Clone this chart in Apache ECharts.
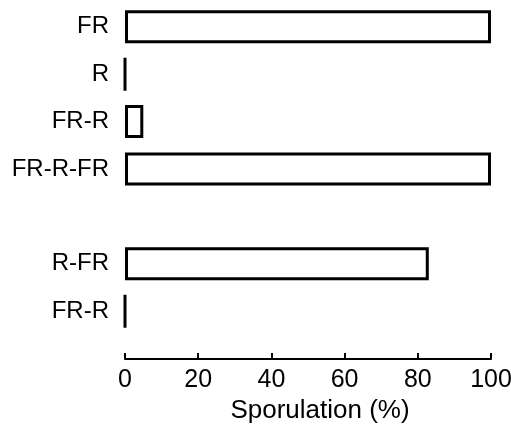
<!DOCTYPE html>
<html>
<head>
<meta charset="utf-8">
<script src="https://cdn.jsdelivr.net/npm/echarts@6/dist/echarts.min.js"></script>
<style>
  html, body { margin: 0; padding: 0; background: #fff; }
  #chart { width: 511px; height: 425px; }
</style>
</head>
<body>
<div id="chart"></div>
<script>
// light treatments, top to bottom; '' is the blank row between the two groups
const treatments = ['FR', 'R', 'FR-R', 'FR-R-FR', '', 'R-FR', 'FR-R'];
const sporulation = [100, 0, 5, 100, null, 83, 0];
const xTicks = [0, 20, 40, 60, 80, 100];

const font = '"Liberation Sans", Arial, Helvetica, sans-serif';

const chart = echarts.init(document.getElementById('chart'));
chart.setOption({
    animation: false,
    grid: {
        left: 125,
        right: 20,
        top: 3,
        bottom: 90,
        outerBoundsMode: 'none'
    },
    xAxis: {
        type: 'value',
        min: xTicks[0],
        max: xTicks[xTicks.length - 1],
        interval: 20,
        offset: 24,
        name: 'Sporulation (%)',
        nameLocation: 'middle',
        nameGap: 36,
        nameTextStyle: { color: '#000', fontSize: 26, fontFamily: font, padding: [0, 0, 0, 24] },
        axisLine: { show: true, lineStyle: { color: '#000', width: 2 } },
        axisTick: { show: true, inside: true, length: 6, lineStyle: { color: '#000', width: 2 } },
        axisLabel: { color: '#000', fontSize: 25, fontFamily: font, margin: 9 },
        splitLine: { show: false }
    },
    yAxis: {
        type: 'category',
        inverse: true,
        data: treatments,
        axisLine: { show: false },
        axisTick: { show: false },
        axisLabel: { color: '#000', fontSize: 24, fontFamily: font, margin: 16 }
    },
    series: [{
        type: 'bar',
        data: sporulation,
        barWidth: 33,
        itemStyle: {
            color: '#fff',
            borderColor: '#000',
            borderWidth: 3
        }
    }]
});
</script>
</body>
</html>
